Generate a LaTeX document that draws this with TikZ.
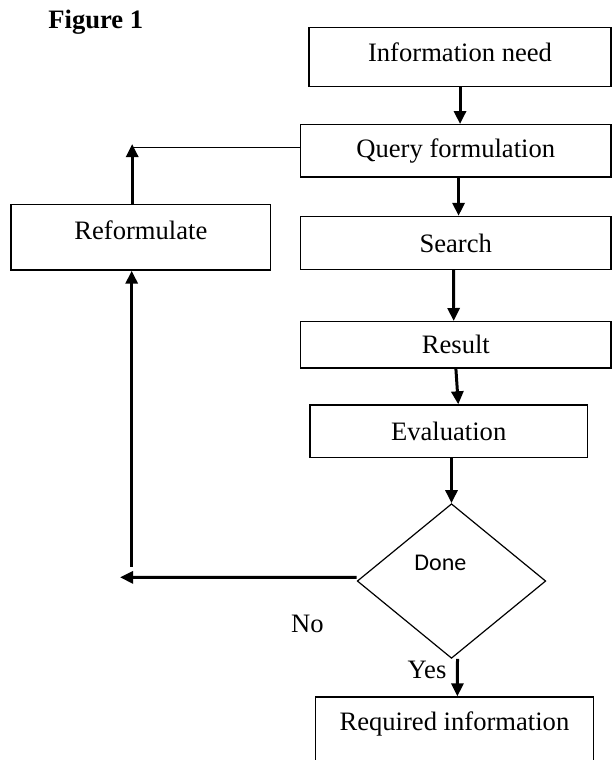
\documentclass[tikz,border=0pt]{standalone}
\usepackage{fontspec}
\setmainfont{Liberation Serif}
\newfontfamily\donefont{Carlito}
\usetikzlibrary{arrows.meta, shapes.geometric}

\begin{document}
\begin{tikzpicture}[
	box/.style={
		draw=black, line width=0.7pt, rectangle, inner sep=0pt,
		align=center, font=\fontsize{13.3}{16}\selectfont
	},
	decision/.style={draw=black, line width=0.6pt, diamond, inner sep=0pt},
	arr/.style={-{Triangle[length=6.5pt, width=6pt]}, line width=1.5pt},
	link/.style={line width=0.7pt},
	lbl/.style={anchor=base west, inner sep=0pt, font=\fontsize{13.3}{16}\selectfont},
	]
	\useasboundingbox (0,0) rectangle (10.755,-13.355);
	
	% ── Title ────────────────────────────────────────────────────────
	\node[lbl, font=\fontsize{13.3}{16}\selectfont\bfseries] (title) at (0.843,-0.497) {Figure 1};
	
	% ── Main column ──────────────────────────────────────────────────
	\node[box, minimum width=5.307cm, minimum height=1.044cm, text depth=4.4pt] (info) at (8.084,-1.002) {Information need};
	\node[box, minimum width=5.456cm, minimum height=0.919cm] (query) at (8.009,-2.651) {Query formulation};
	\node[box, minimum width=5.456cm, minimum height=0.931cm] (search) at (8.009,-4.270) {Search};
	\node[box, minimum width=5.453cm, minimum height=0.814cm] (result) at (8.011,-6.060) {Result};
	\node[box, minimum width=4.873cm, minimum height=0.926cm] (eval) at (7.884,-7.580) {Evaluation};
	
	\node[decision, minimum width=3.314cm, minimum height=2.717cm] (done) at (7.934,-10.210) {};
	\node[anchor=base west, inner sep=0pt, font=\donefont\fontsize{12}{14}\selectfont] (donetext) at (7.275,-10.029) {Done};
	
	\node[box, minimum width=4.882cm, minimum height=1.757cm, text depth=26pt] (req) at (7.985,-13.127) {Required information};
	
	\draw[arr] (info.south) -- (info.south |- query.north);
	\draw[arr] ([xshift=1.4pt]query.south) -- ([xshift=1.4pt]search.north);
	\draw[arr] ([xshift=-1.1pt]search.south) -- ([xshift=-1.1pt]result.north);
	\draw[arr] (result.south) -- ([xshift=4.8pt]eval.north);
	\draw[arr] (eval.south -| done.north) -- (done.north);
	\draw[arr] ([xshift=3pt]done.south) -- ([xshift=1.5pt]req.north);
	
	\node[lbl] (yes) at (7.157,-11.920) {Yes};
	\node[lbl] (no) at (5.108,-11.115) {No};
	
	% ── Feedback loop ────────────────────────────────────────────────
	\node[box, minimum width=4.564cm, minimum height=1.148cm, text depth=7.2pt] (reform) at (2.475,-4.171) {Reformulate};
	
	\coordinate (reformtip) at (2.323,-2.531);
	\coordinate (loopfoot) at (2.314,-9.959);
	\coordinate (noend) at (2.109,-10.145);
	\coordinate (qleft) at ([yshift=1.7pt]query.west);
	
	\draw[arr] ([yshift=1.8pt]done.west) -- (noend);
	\draw[arr] (loopfoot) -- (loopfoot |- reform.south);
	\draw[arr] (reformtip |- reform.north) -- (reformtip);
	\draw[link] (qleft) -- (qleft -| reformtip);
	
\end{tikzpicture}
\end{document}
